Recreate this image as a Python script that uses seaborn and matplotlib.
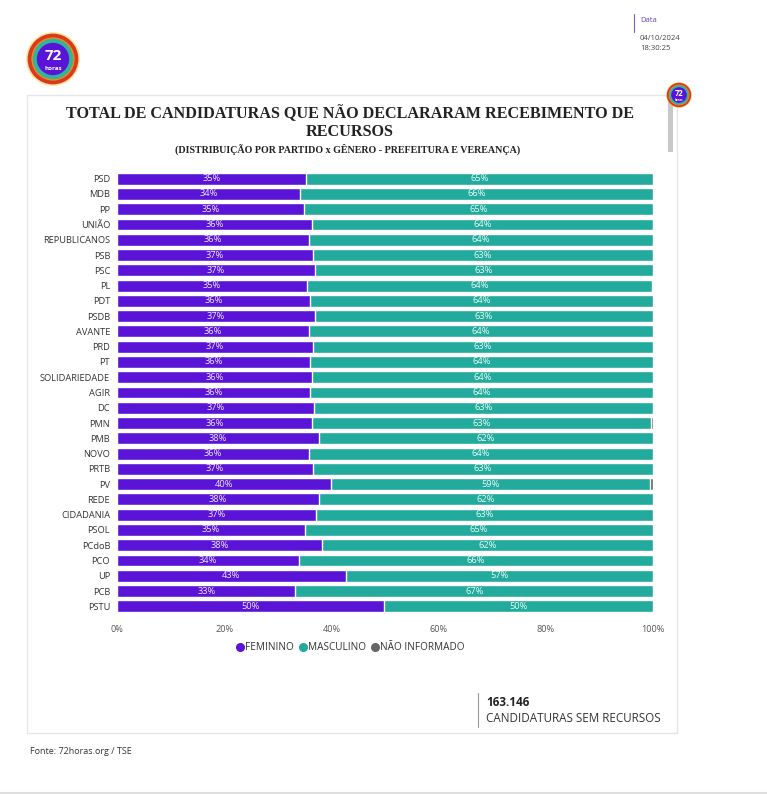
import matplotlib
matplotlib.use("Agg")
import matplotlib.pyplot as plt
import seaborn as sns
import pandas as pd
import numpy as np
from matplotlib.patches import Rectangle, Ellipse
from matplotlib.lines import Line2D

# ---- data ----
partidos = ["PSD", "MDB", "PP", "UNIÃO", "REPUBLICANOS", "PSB", "PSC", "PL", "PDT", "PSDB",
            "AVANTE", "PRD", "PT", "SOLIDARIEDADE", "AGIR", "DC", "PMN", "PMB", "NOVO", "PRTB",
            "PV", "REDE", "CIDADANIA", "PSOL", "PCdoB", "PCO", "UP", "PCB", "PSTU"]
feminino = [35.3, 34.1, 34.9, 36.4, 35.9, 36.6, 37.0, 35.4, 36.0, 36.9,
            35.9, 36.6, 36.1, 36.4, 36.0, 36.8, 36.3, 37.7, 35.8, 36.6,
            40.0, 37.7, 37.1, 35.0, 38.3, 34.0, 42.7, 33.3, 49.9]
masculino = [64.7, 65.9, 65.1, 63.6, 64.1, 63.4, 63.0, 64.4, 64.0, 63.1,
             64.1, 63.4, 63.9, 63.6, 64.0, 63.2, 63.3, 62.3, 64.2, 63.4,
             59.4, 62.3, 62.9, 65.0, 61.7, 66.0, 57.3, 66.7, 50.1]
nao_informado = [round(100 - f - m, 2) for f, m in zip(feminino, masculino)]
x_ticks = [0, 20, 40, 60, 80, 100]
x_tick_labels = ["0%", "20%", "40%", "60%", "80%", "100%"]
total_candidaturas = "163.146"

C_FEM = "#5a14d8"
C_MASC = "#22aa9c"
C_NI = "#666666"

df = pd.DataFrame({"partido": partidos, "fem": feminino, "masc": masculino, "ni": nao_informado})
df["fem_masc"] = df["fem"] + df["masc"]
df["total"] = df["fem_masc"] + df["ni"]

sns.set_theme(style="white")
plt.rcParams["font.family"] = ["Open Sans", "DejaVu Sans"]

W, H = 767, 795
fig = plt.figure(figsize=(W / 100, H / 100), dpi=100)
fig.patch.set_facecolor("white")

def fx(x):
    return x / W

def fy(y):
    return 1 - y / H

# card (behind the axes)
card = Rectangle((fx(27), fy(733)), fx(677) - fx(27), fy(95) - fy(733), transform=fig.transFigure,
                 facecolor="white", edgecolor="#e6e6e6", linewidth=1.0, zorder=-5)
fig.patches.append(card)
# bottom line
fig.add_artist(Line2D([0, 1], [fy(793), fy(793)], transform=fig.transFigure, color="#dddddd", lw=1.5))
# scrollbar
fig.patches.append(Rectangle((fx(668), fy(152)), fx(5), fy(100) - fy(152), transform=fig.transFigure,
                             facecolor="#c8c8c8", edgecolor="none"))

def logo(cx, cy, r, fs1, fs2):
    layers = [(1.0, "#f7d24a", 0.55), (0.94, "#d9391f", 1), (0.80, "#ef8a1e", 1),
              (0.75, "#2fb59a", 1), (0.60, "#5a14d8", 1)]
    for frac, col, a in layers:
        e = Ellipse((fx(cx), fy(cy)), width=2 * r * frac / W, height=2 * r * frac / H,
                    transform=fig.transFigure, facecolor=col, edgecolor="none", alpha=a)
        fig.patches.append(e)
    fig.text(fx(cx), fy(cy - r * 0.12), "72", ha="center", va="center", color="white",
             fontsize=fs1, fontweight="bold")
    fig.text(fx(cx), fy(cy + r * 0.36), "horas", ha="center", va="center", color="white",
             fontsize=fs2, fontweight="bold")

logo(53, 59, 27, 11, 4.5)
logo(679, 95, 13, 5.5, 2.2)

# date block
fig.add_artist(Line2D([fx(634), fx(634)], [fy(14), fy(32)], transform=fig.transFigure, color="#7a5cc7", lw=0.8))
fig.text(fx(640), fy(21), "Data", fontsize=5.5, color="#6a3fc0", va="center")
fig.text(fx(640), fy(39), "04/10/2024", fontsize=5.5, color="#444444", va="center")
fig.text(fx(640), fy(49), "18:30:25", fontsize=5.5, color="#444444", va="center")

# titles
fig.text(fx(350), fy(114), "TOTAL DE CANDIDATURAS QUE NÃO DECLARARAM RECEBIMENTO DE", ha="center", va="center",
         fontsize=11.6, fontweight="bold", family="Liberation Serif", color="#222222")
fig.text(fx(350), fy(132), "RECURSOS", ha="center", va="center",
         fontsize=11.6, fontweight="bold", family="Liberation Serif", color="#222222")
fig.text(fx(348), fy(149), "(DISTRIBUIÇÃO POR PARTIDO x GÊNERO - PREFEITURA E VEREANÇA)", ha="center", va="center",
         fontsize=7.2, fontweight="bold", family="Liberation Serif", color="#222222")

# axes
ax = fig.add_axes([fx(117), fy(614), fx(653) - fx(117), fy(171) - fy(614)])
bw = 0.78
sns.barplot(data=df, x="total", y="partido", color=C_NI, width=bw, ax=ax, saturation=1, orient="h")
sns.barplot(data=df, x="fem_masc", y="partido", color=C_MASC, width=bw, ax=ax, saturation=1, orient="h")
sns.barplot(data=df, x="fem", y="partido", color=C_FEM, width=bw, ax=ax, saturation=1, orient="h")

for i, (f, m) in enumerate(zip(df["fem"], df["masc"])):
    ax.text(f / 2, i, f"{round(f):.0f}%", ha="center", va="center", color="#efe8ff", fontsize=6.7)
    ax.text(f + m / 2, i, f"{round(m):.0f}%", ha="center", va="center", color="#e8fcf8", fontsize=6.7)

ax.set_xlim(0, 100)
ax.set_ylim(len(partidos) - 0.5, -0.5)
ax.set_xticks(x_ticks)
ax.set_xticklabels(x_tick_labels)
ax.set_xlabel("")
ax.set_ylabel("")
ax.tick_params(axis="x", length=0, pad=8, labelsize=6.6, labelcolor="#555555")
ax.tick_params(axis="y", length=0, pad=5, labelsize=6.7, labelcolor="#333333")
for s in ax.spines.values():
    s.set_visible(False)
ax.set_facecolor("white")

# legend
handles = [Line2D([], [], marker="o", linestyle="none", markersize=5.5, color=c)
           for c in (C_FEM, C_MASC, C_NI)]
fig.legend(handles, ["FEMININO", "MASCULINO", "NÃO INFORMADO"], loc="center",
           bbox_to_anchor=(fx(350), fy(648)), ncol=3, frameon=False, fontsize=7.2,
           handletextpad=0.0, columnspacing=0.4, handlelength=1.0, labelcolor="#333333")

# KPI
fig.add_artist(Line2D([fx(478), fx(478)], [fy(693), fy(727)], transform=fig.transFigure, color="#999999", lw=0.8))
fig.text(fx(486), fy(703), total_candidaturas, fontsize=8.5, fontweight="bold", color="#222222", va="center")
fig.text(fx(486), fy(718), "CANDIDATURAS SEM RECURSOS", fontsize=8.4, color="#333333", va="center")

fig.text(fx(30), fy(751), "Fonte: 72horas.org / TSE", fontsize=6.5, color="#333333", va="center")

fig.savefig("out.png", dpi=100, facecolor="white")
